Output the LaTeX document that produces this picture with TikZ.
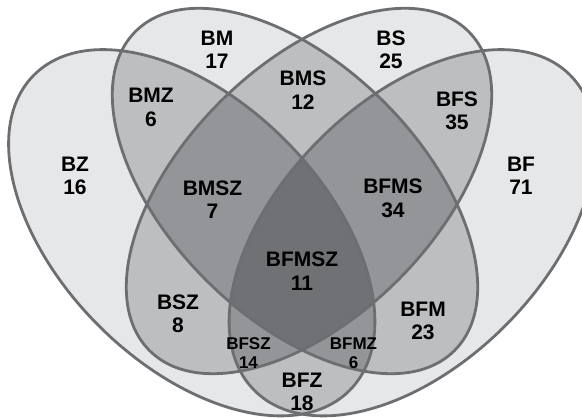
\documentclass[tikz,border=0pt]{standalone}
\usepackage{fontspec}
\setmainfont{Liberation Sans}
\definecolor{cone}{HTML}{E6E7E8}
\definecolor{ctwo}{HTML}{BCBEC0}
\definecolor{cthree}{HTML}{939598}
\definecolor{cfour}{HTML}{707174}
\definecolor{edgegray}{HTML}{6D6E71}
\begin{document}
\begin{tikzpicture}[x=1pt,y=1pt,
  outline/.style={draw=edgegray,line width=2.8pt},
  lab/.style={font=\bfseries\fontsize{21}{23.5}\selectfont,align=center,text=black,inner sep=0pt},
  smalllab/.style={font=\bfseries\fontsize{17}{19}\selectfont,align=center,text=black,inner sep=0pt}]
\path[use as bounding box] (0,0) rectangle (582,418);
\clip (0,0) rectangle (582,418);
\def\pathZ{(191.75,185.25) circle [x radius=223.1pt, y radius=131.5pt, rotate=-45]}
\def\pathF{(412.25,185.25) circle [x radius=223.1pt, y radius=131.5pt, rotate=45]}
\def\pathM{(295,227) circle [x radius=225.6pt, y radius=125.9pt, rotate=-45]}
\def\pathS{(309,227) circle [x radius=225.6pt, y radius=125.9pt, rotate=45]}
% single sets
\fill[cone] \pathZ;
\fill[cone] \pathF;
\fill[cone] \pathM;
\fill[cone] \pathS;
% pairs
\begin{scope}\clip \pathZ; \fill[ctwo] \pathM; \fill[ctwo] \pathS; \fill[ctwo] \pathF; \end{scope}
\begin{scope}\clip \pathM; \fill[ctwo] \pathS; \fill[ctwo] \pathF; \end{scope}
\begin{scope}\clip \pathS; \fill[ctwo] \pathF; \end{scope}
% triples
\begin{scope}\clip \pathZ; \clip \pathM; \fill[cthree] \pathS; \fill[cthree] \pathF; \end{scope}
\begin{scope}\clip \pathZ; \clip \pathS; \fill[cthree] \pathF; \end{scope}
\begin{scope}\clip \pathM; \clip \pathS; \fill[cthree] \pathF; \end{scope}
% all four
\begin{scope}\clip \pathZ; \clip \pathM; \clip \pathS; \fill[cfour] \pathF; \end{scope}
% outlines
\draw[outline] \pathZ;
\draw[outline] \pathF;
\draw[outline] \pathM;
\draw[outline] \pathS;
% labels
\node[lab] (bm) at (217,368) {BM\\17};
\node[lab] (bs) at (391,368) {BS\\25};
\node[lab] (bms) at (303,328) {BMS\\12};
\node[lab] (bmz) at (151,310.5) {BMZ\\6};
\node[lab] (bfs) at (457,307) {BFS\\35};
\node[lab] (bz) at (75,242) {BZ\\16};
\node[lab] (bf) at (521,242) {BF\\71};
\node[lab] (bmsz) at (212.5,218.5) {BMSZ\\7};
\node[lab] (bfms) at (393,219.5) {BFMS\\34};
\node[lab] (bfmsz) at (302,147) {BFMSZ\\11};
\node[lab] (bsz) at (178,104) {BSZ\\8};
\node[lab] (bfm) at (423,97) {BFM\\23};
\node[smalllab] (bfsz) at (248.5,65) {BFSZ\\14};
\node[smalllab] (bfmz) at (353.5,65) {BFMZ\\6};
\node[lab] (bfz) at (302,26) {BFZ\\18};
\end{tikzpicture}
\end{document}
